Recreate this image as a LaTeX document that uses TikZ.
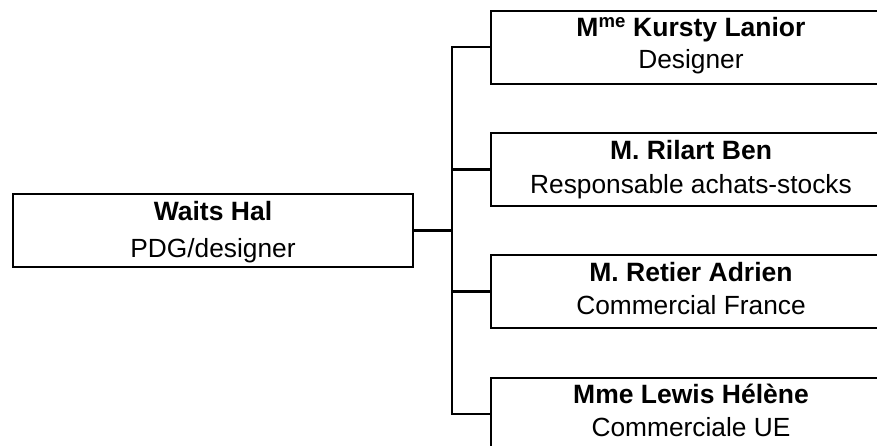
\documentclass[tikz,border=0pt]{standalone}
\usepackage{fontspec}
\setmainfont{Liberation Sans}
\begin{document}
\begin{tikzpicture}[x=1pt,y=-1pt,
  box/.style={draw,line width=2.2pt,minimum width=400pt,minimum height=73pt,inner sep=0pt},
  title/.style={anchor=base,font=\fontsize{26.5}{30}\selectfont\bfseries,inner sep=0pt},
  role/.style={anchor=base,font=\fontsize{26.3}{30}\selectfont,inner sep=0pt},
  link/.style={line width=2.2pt,line join=miter}]
\clip (0,0) rectangle (877,445);
% CEO
\node[box] (ceo) at (213,230.5) {};
\node[title] (ceoT) at (213,220) {Waits Hal};
\node[role] (ceoR) at (213,257) {PDG/designer};
% subordinates
\node[box] (b1) at (691,47.3) {};
\node[title] (b1T) at (691,36.7) {M\textsuperscript{me} Kursty Lanior};
\node[role] (b1R) at (691,68) {Designer};
\node[box] (b2) at (691,169.5) {};
\node[title] (b2T) at (691,159) {M. Rilart Ben};
\node[role] (b2R) at (691,193) {Responsable achats-stocks};
\node[box] (b3) at (691,291.5) {};
\node[title] (b3T) at (691,281.5) {M. Retier Adrien};
\node[role] (b3R) at (691,314.5) {Commercial France};
\node[box] (b4) at (691,414.3) {};
\node[title] (b4T) at (691,403.5) {Mme Lewis Hélène};
\node[role] (b4R) at (691,436.5) {Commerciale UE};
% connectors
\coordinate (tr) at (452,0);
\draw[link] (ceo.east) -- (ceo.east -| tr);
\draw[link] (b1.west) -- (b1.west -| tr) -- (b4.west -| tr) -- (b4.west);
\draw[link] (b2.west) -- (b2.west -| tr);
\draw[link] (b3.west) -- (b3.west -| tr);
\end{tikzpicture}
\end{document}
